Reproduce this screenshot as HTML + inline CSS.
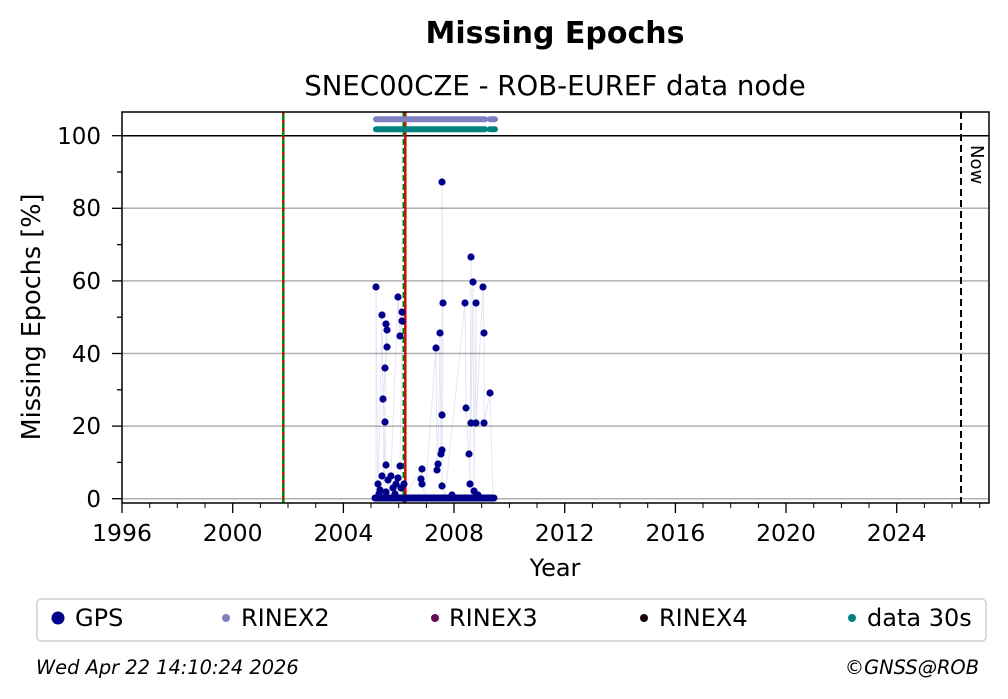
<!DOCTYPE html>
<html><head><meta charset="utf-8"><style>
body{margin:0;background:#fff;}
svg{display:block;font-family:"DejaVu Sans","Liberation Sans",sans-serif;}
</style></head><body>
<svg width="1008" height="699" viewBox="0 0 1008 699" xmlns="http://www.w3.org/2000/svg">
<text x="555" y="43" text-anchor="middle" font-size="30" font-weight="bold">Missing Epochs</text>
<text x="555" y="95" text-anchor="middle" font-size="27.6">SNEC00CZE - ROB-EUREF data node</text>
<!-- grid -->
<g stroke="#b0b0b0" stroke-width="1.5">
<line x1="122" x2="989" y1="498.7" y2="498.7"/>
<line x1="122" x2="989" y1="426.1" y2="426.1"/>
<line x1="122" x2="989" y1="353.5" y2="353.5"/>
<line x1="122" x2="989" y1="280.9" y2="280.9"/>
<line x1="122" x2="989" y1="208.3" y2="208.3"/>
</g>
<line x1="122" x2="989" y1="135.7" y2="135.7" stroke="#000" stroke-width="1.5"/>
<!-- vertical lines -->
<line x1="283.3" x2="283.3" y1="112" y2="503" stroke="#008000" stroke-width="2.5"/>
<line x1="283.3" x2="283.3" y1="112" y2="503" stroke="#e00000" stroke-width="2" stroke-dasharray="3,5"/>
<line x1="405.3" x2="405.3" y1="112" y2="503" stroke="#e00000" stroke-width="2.5"/>
<line x1="403.5" x2="403.5" y1="112" y2="503" stroke="#008000" stroke-width="2" stroke-dasharray="6,3"/>
<line x1="961" x2="961" y1="112" y2="503" stroke="#000" stroke-width="2" stroke-dasharray="7,4"/>
<text transform="translate(971,145) rotate(90)" font-size="18">Now</text>
<!-- bands -->
<line x1="376" x2="485" y1="119.3" y2="119.3" stroke="#8080c0" stroke-width="6" stroke-linecap="round"/>
<line x1="490" x2="495" y1="119.3" y2="119.3" stroke="#8080c0" stroke-width="6" stroke-linecap="round"/>
<line x1="376" x2="485" y1="129.3" y2="129.3" stroke="#008080" stroke-width="6" stroke-linecap="round"/>
<line x1="490" x2="495" y1="129.3" y2="129.3" stroke="#008080" stroke-width="6" stroke-linecap="round"/>
<!-- thin connecting lines -->
<polyline fill="none" stroke="#0000a0" stroke-opacity="0.1" stroke-width="1" points="376,497 376,287 378,497 382,315 384,497 386,324 387,330 387,347 385,368 383,399 385,422 386,465 390,497 398,297 400,336 402,312 402,321 400,466 404,497 422,469 421,479 422,484 425,497 436,348 437,470 438,464 440,333 441,454 442,450 442,415 442,182 443,303 442,486 445,497 465,303 466,408 469,454 470,484 471,257 471,423 473,282 474,491 476,303 476,423 483,287 484,333 484,423 490,393 493,497"/>
<!-- baseline points -->
<line x1="375" x2="494" y1="498" y2="498" stroke="#00008b" stroke-width="7" stroke-linecap="round"/>
<g fill="#00008b">
<circle cx="376" cy="287" r="3.6"/><circle cx="382" cy="315" r="3.6"/><circle cx="386" cy="324" r="3.6"/><circle cx="387" cy="330" r="3.6"/><circle cx="387" cy="347" r="3.6"/><circle cx="385" cy="368" r="3.6"/><circle cx="383" cy="399" r="3.6"/><circle cx="385" cy="422" r="3.6"/><circle cx="386" cy="465" r="3.6"/>
<circle cx="398" cy="297" r="3.6"/><circle cx="402" cy="312" r="3.6"/><circle cx="402" cy="321" r="3.6"/><circle cx="400" cy="336" r="3.6"/><circle cx="400" cy="466" r="3.6"/>
<circle cx="442" cy="182" r="3.6"/><circle cx="443" cy="303" r="3.6"/><circle cx="440" cy="333" r="3.6"/><circle cx="436" cy="348" r="3.6"/><circle cx="442" cy="415" r="3.6"/><circle cx="442" cy="450" r="3.6"/><circle cx="441" cy="454" r="3.6"/><circle cx="438" cy="464" r="3.6"/><circle cx="437" cy="470" r="3.6"/><circle cx="442" cy="486" r="3.6"/>
<circle cx="422" cy="469" r="3.6"/><circle cx="421" cy="479" r="3.6"/><circle cx="422" cy="484" r="3.6"/>
<circle cx="471" cy="257" r="3.6"/><circle cx="473" cy="282" r="3.6"/><circle cx="483" cy="287" r="3.6"/><circle cx="465" cy="303" r="3.6"/><circle cx="476" cy="303" r="3.6"/><circle cx="484" cy="333" r="3.6"/><circle cx="490" cy="393" r="3.6"/><circle cx="466" cy="408" r="3.6"/><circle cx="471" cy="423" r="3.6"/><circle cx="476" cy="423" r="3.6"/><circle cx="484" cy="423" r="3.6"/><circle cx="469" cy="454" r="3.6"/><circle cx="470" cy="484" r="3.6"/><circle cx="474" cy="491" r="3.6"/>
<circle cx="378" cy="484" r="3.6"/><circle cx="380" cy="490" r="3.6"/><circle cx="382" cy="476" r="3.6"/><circle cx="388" cy="480" r="3.6"/><circle cx="391" cy="476" r="3.6"/><circle cx="393" cy="488" r="3.6"/><circle cx="396" cy="484" r="3.6"/><circle cx="398" cy="478" r="3.6"/><circle cx="401" cy="488" r="3.6"/><circle cx="404" cy="484" r="3.6"/><circle cx="379" cy="494" r="3.6"/><circle cx="386" cy="492" r="3.6"/><circle cx="395" cy="494" r="3.6"/><circle cx="452" cy="495" r="3.6"/><circle cx="478" cy="495" r="3.6"/>
</g>
<!-- axes frame -->
<rect x="122" y="112" width="867" height="391" fill="none" stroke="#000" stroke-width="1.5"/>
<!-- y ticks -->
<g stroke="#000" stroke-width="1.3">
<line x1="112" x2="122" y1="498.7" y2="498.7"/><line x1="112" x2="122" y1="426.1" y2="426.1"/><line x1="112" x2="122" y1="353.5" y2="353.5"/><line x1="112" x2="122" y1="280.9" y2="280.9"/><line x1="112" x2="122" y1="208.3" y2="208.3"/><line x1="112" x2="122" y1="135.7" y2="135.7"/>
<line x1="117" x2="122" y1="462.4" y2="462.4"/><line x1="117" x2="122" y1="389.8" y2="389.8"/><line x1="117" x2="122" y1="317.2" y2="317.2"/><line x1="117" x2="122" y1="244.6" y2="244.6"/><line x1="117" x2="122" y1="172" y2="172"/>
</g>
<g font-size="23" text-anchor="end">
<text x="101" y="507">0</text><text x="101" y="434">20</text><text x="101" y="362">40</text><text x="101" y="289">60</text><text x="101" y="216">80</text><text x="101" y="144">100</text>
</g>
<text transform="translate(40,317) rotate(-90)" font-size="25.5" text-anchor="middle">Missing Epochs [%]</text>
<!-- x ticks -->
<g stroke="#000" stroke-width="1.3">
<line x1="122" x2="122" y1="503" y2="513"/><line x1="232.7" x2="232.7" y1="503" y2="513"/><line x1="343.4" x2="343.4" y1="503" y2="513"/><line x1="454" x2="454" y1="503" y2="513"/><line x1="564.7" x2="564.7" y1="503" y2="513"/><line x1="675.4" x2="675.4" y1="503" y2="513"/><line x1="786" x2="786" y1="503" y2="513"/><line x1="896.7" x2="896.7" y1="503" y2="513"/>
</g>
<g stroke="#000" stroke-width="1">
<path d="M149.7 503v5M177.3 503v5M205 503v5M260.4 503v5M288 503v5M315.7 503v5M371 503v5M398.7 503v5M426.4 503v5M481.7 503v5M509.4 503v5M537 503v5M592.4 503v5M620 503v5M647.7 503v5M703 503v5M730.7 503v5M758.4 503v5M813.7 503v5M841.4 503v5M869 503v5M924.4 503v5M952 503v5M979.7 503v5"/>
</g>
<g font-size="23.5" text-anchor="middle">
<text x="122" y="541">1996</text><text x="232.7" y="541">2000</text><text x="343.4" y="541">2004</text><text x="454" y="541">2008</text><text x="564.7" y="541">2012</text><text x="675.4" y="541">2016</text><text x="786" y="541">2020</text><text x="896.7" y="541">2024</text>
</g>
<text x="555" y="576" font-size="24" text-anchor="middle">Year</text>
<!-- legend -->
<rect x="37" y="599" width="949" height="42" rx="4" fill="#fff" stroke="#d0d0d0" stroke-width="1.5"/>
<g font-size="24">
<circle cx="58" cy="618" r="6.5" fill="#00008b"/><text x="75" y="626">GPS</text>
<circle cx="226" cy="618" r="4" fill="#8080c0"/><text x="241" y="626">RINEX2</text>
<circle cx="435" cy="618" r="4" fill="#6b0b5b"/><text x="449" y="626">RINEX3</text>
<circle cx="644" cy="618" r="4" fill="#1a0010"/><text x="659" y="626">RINEX4</text>
<circle cx="852" cy="618" r="4" fill="#008080"/><text x="867" y="626">data 30s</text>
</g>
<text x="36" y="674" font-size="19.4" font-style="italic">Wed Apr 22 14:10:24 2026</text>
<text x="979" y="674" font-size="19.4" font-style="italic" text-anchor="end">©GNSS@ROB</text>
</svg>
</body></html>
